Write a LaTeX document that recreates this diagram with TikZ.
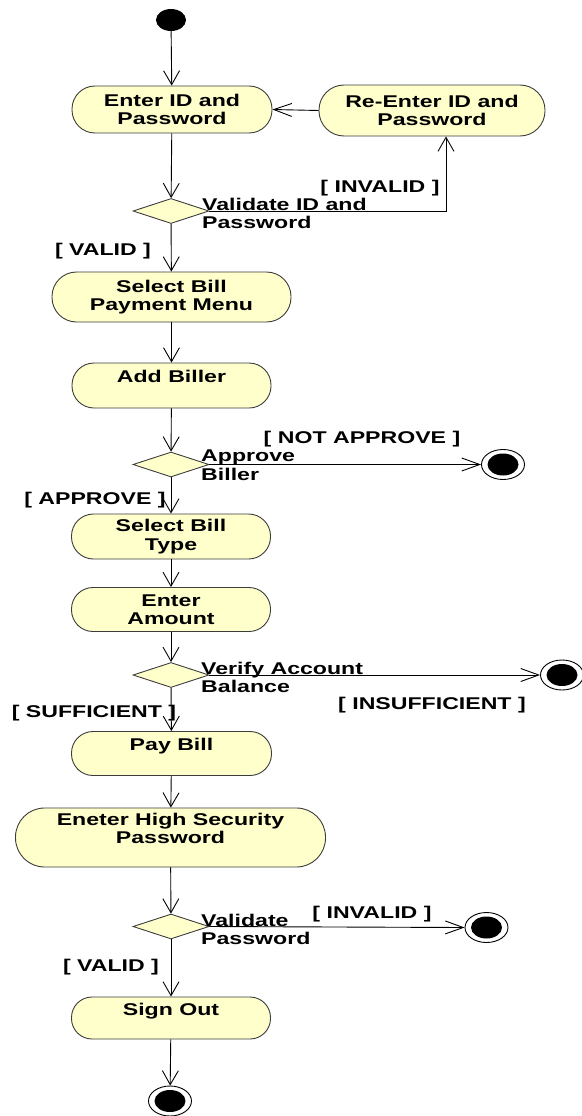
\documentclass[tikz,border=0pt]{standalone}
\usepackage{fontspec}
\setmainfont{Liberation Sans}[FakeStretch=1.36]
\usetikzlibrary{shapes.geometric,arrows.meta,calc}
\definecolor{actfill}{RGB}{255,255,204}
\definecolor{actline}{RGB}{60,60,60}
\begin{document}
\begin{tikzpicture}[x=1pt,y=-1pt,
  lbl/.style={inner sep=0pt,font={\fontsize{17}{18.3}\selectfont\bfseries}},
  act/.style={draw=actline,fill=actfill,line width=0.9pt,inner sep=0pt,align=center,
    font={\fontsize{17}{18.3}\selectfont\bfseries}},
  dec/.style={diamond,draw=actline,fill=actfill,line width=0.9pt,inner sep=0pt,
    minimum width=76pt,minimum height=25pt},
  startnode/.style={ellipse,fill=black,inner sep=0pt,minimum width=30pt,minimum height=22pt},
  endnode/.style={ellipse,draw=black,fill=white,line width=0.9pt,inner sep=0pt,
    minimum width=43pt,minimum height=30pt,
    path picture={\fill[black] (path picture bounding box.center) ellipse (15.5pt and 11pt);}},
  flow/.style={draw=black,line width=0.9pt},
  varr/.style={flow,-{Straight Barb[length=14pt,width=16pt,line width=0.9pt]}},
  harr/.style={flow,-{Straight Barb[length=18pt,width=13pt,line width=0.9pt]}}
]
\useasboundingbox (0,0) rectangle (581,1116);

% activity nodes
\node[startnode] (start) at (171,20) {};
\node[act,minimum width=200pt,minimum height=47pt,rounded corners=23pt] (a1) at (172,109.5) {Enter ID and\\Password};
\node[act,minimum width=226pt,minimum height=51pt,rounded corners=25pt] (re) at (432,110.5) {Re-Enter ID and\\Password};
\node[dec] (d1) at (171,211) {};
\node[act,minimum width=239pt,minimum height=50pt,rounded corners=24.5pt] (a2) at (171.5,297) {Select Bill\\Payment Menu};
\node[act,minimum width=199pt,minimum height=45pt,rounded corners=22pt] (a3) at (171.5,385.5) {Add Biller\\\mbox{}};
\node[dec] (d2) at (171,464.5) {};
\node[endnode] (e1) at (503,464.5) {};
\node[act,minimum width=199pt,minimum height=45pt,rounded corners=22pt] (a4) at (171,536.5) {Select Bill\\Type};
\node[act,minimum width=199pt,minimum height=44pt,rounded corners=21.5pt] (a5) at (171,609.5) {Enter\\Amount};
\node[dec] (d3) at (171,675) {};
\node[endnode] (e2) at (562,675) {};
\node[act,minimum width=200pt,minimum height=44pt,rounded corners=21.5pt] (a6) at (171.5,753.5) {Pay Bill\\\mbox{}};
\node[act,minimum width=310pt,minimum height=59pt,rounded corners=29pt] (a7) at (170.5,837.5) {Eneter High Security\\Password\\\mbox{}};
\node[dec] (d4) at (171,926.5) {};
\node[endnode] (e3) at (486.5,927.5) {};
\node[act,minimum width=199pt,minimum height=42pt,rounded corners=20.5pt] (a8) at (171,1018) {Sign Out\\\mbox{}};
\node[endnode] (e4) at (170,1101) {};

% decision labels
\node[lbl,anchor=north west,align=left] (t1) at (202,198) {Validate ID and\\Password};
\node[lbl,anchor=north west,align=left] (t2) at (201,450) {Approve\\Biller};
\node[lbl,anchor=north west,align=left] (t3) at (201,662) {Verify Account\\Balance};
\node[lbl,anchor=north west,align=left] (t4) at (201,914) {Validate\\Password};

% guard labels
\node[lbl,anchor=base] (g1) at (380,192) {[ INVALID ]};
\node[lbl,anchor=base] (g2) at (103,255) {[ VALID ]};
\node[lbl,anchor=base] (g3) at (362,443) {[ NOT APPROVE ]};
\node[lbl,anchor=base] (g4) at (95,504) {[ APPROVE ]};
\node[lbl,anchor=base] (g5) at (432,709) {[ INSUFFICIENT ]};
\node[lbl,anchor=base] (g6) at (94,717) {[ SUFFICIENT ]};
\node[lbl,anchor=base] (g7) at (372,918) {[ INVALID ]};
\node[lbl,anchor=base] (g8) at (111,971) {[ VALID ]};

% connectors
\draw[varr] (start) -- (a1);
\draw[harr] (re.west) -- (a1.east);
\draw[varr] (a1) -- (d1);
\draw[varr] (d1.east) -| ($(re.south)+(14,0)$);
\draw[varr] (d1) -- (a2);
\draw[varr] (a2) -- (a3);
\draw[varr] (a3) -- (d2);
\draw[harr] (d2.east) -- (e1.west);
\draw[varr] (d2) -- (a4);
\draw[varr] (a4) -- (a5);
\draw[varr] (a5) -- (d3);
\draw[harr] (d3.east) -- (e2.west);
\draw[varr] (d3) -- (a6);
\draw[varr] (a6) -- (a7);
\draw[varr] (a7) -- (d4);
\draw[harr] (d4.east) -- (e3.west);
\draw[varr] (d4) -- (a8);
\draw[varr] (a8) -- (e4);
\end{tikzpicture}
\end{document}
